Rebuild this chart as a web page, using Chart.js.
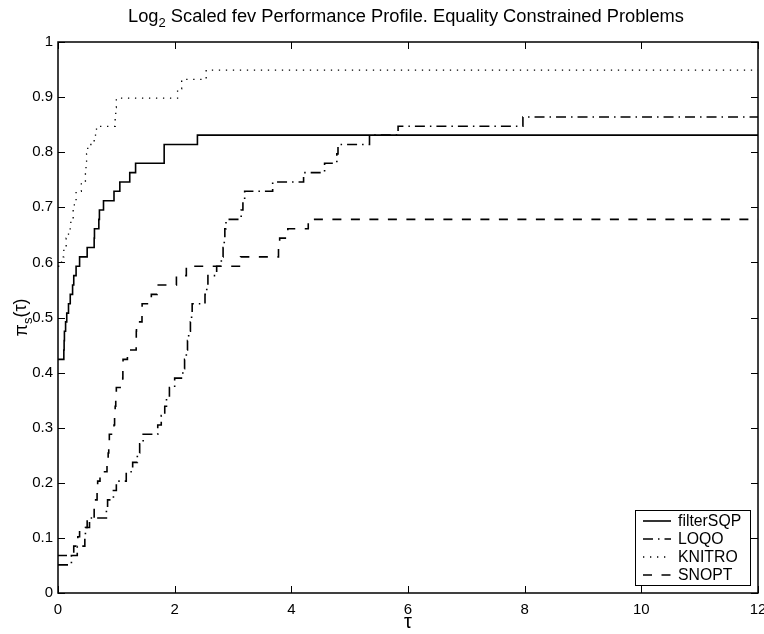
<!DOCTYPE html>
<html>
<head>
<meta charset="utf-8">
<title>Performance profile</title>
<script src="https://cdn.jsdelivr.net/npm/chart.js@4.4.1/dist/chart.umd.min.js"></script>
<style>
    html, body { margin: 0; padding: 0; background: #fff; }
    #wrap { width: 764px; height: 634px; }
</style>
</head>
<body>
<div id="wrap"><canvas id="profileChart" width="764" height="634"></canvas></div>
<script>
// tau breakpoints and fraction of problems solved
const filterTau = [0, 0.10, 0.105, 0.11, 0.13, 0.15, 0.18, 0.21, 0.25, 0.27, 0.31, 0.37, 0.50, 0.62, 0.625, 0.70, 0.71, 0.78, 0.96, 1.06, 1.23, 1.33, 1.82, 2.39, 12];
const filterRho = [0.424, 0.441, 0.458, 0.475, 0.492, 0.508, 0.525, 0.542, 0.559, 0.576, 0.593, 0.610, 0.627, 0.644, 0.661, 0.678, 0.695, 0.712, 0.729, 0.746, 0.763, 0.780, 0.814, 0.831, 0.831];

const loqoTau = [0, 0.23, 0.33, 0.46, 0.47, 0.54, 0.83, 0.85, 0.95, 1.00,
                 1.17, 1.28, 1.36, 1.40, 1.46, 1.71, 1.77, 1.83, 1.86, 1.91,
                 2.00, 2.14, 2.17, 2.20, 2.22, 2.24, 2.27, 2.29, 2.30, 2.52,
                 2.55, 2.57, 2.72, 2.80, 2.83, 2.85, 2.86, 2.88, 3.14, 3.17,
                 3.20, 3.68, 4.21, 4.57, 4.78, 4.80, 5.34, 5.83, 7.97, 12];
const loqoRho = [0.051, 0.068, 0.085, 0.102, 0.119, 0.136, 0.153, 0.169, 0.186, 0.203,
                 0.220, 0.237, 0.254, 0.271, 0.288, 0.305, 0.322, 0.339, 0.356, 0.373,
                 0.390, 0.407, 0.424, 0.441, 0.458, 0.475, 0.492, 0.508, 0.525, 0.542,
                 0.559, 0.576, 0.593, 0.610, 0.627, 0.644, 0.661, 0.678, 0.695, 0.712,
                 0.729, 0.746, 0.763, 0.780, 0.797, 0.814, 0.831, 0.847, 0.864, 0.864];

const knitroTau = [0, 0.06, 0.10, 0.14, 0.18, 0.22, 0.26, 0.28, 0.31, 0.40, 0.47, 0.48, 0.49, 0.51, 0.62, 0.66, 0.98, 0.99, 1.00, 2.05, 2.12, 2.54, 12];
const knitroRho = [0.593, 0.610, 0.627, 0.644, 0.661, 0.678, 0.695, 0.712, 0.729, 0.746, 0.763, 0.780, 0.797, 0.814, 0.831, 0.847, 0.864, 0.881, 0.898, 0.915, 0.932, 0.949, 0.949];

const snoptTau = [0, 0.27, 0.34, 0.37, 0.50, 0.62, 0.63, 0.67, 0.68, 0.72,
                  0.84, 0.86, 0.87, 0.88, 0.96, 0.97, 0.98, 0.99, 1.00,
                  1.11, 1.112, 1.115, 1.19, 1.34, 1.342, 1.345, 1.44, 1.442,
                  1.60, 1.70, 2.03, 2.20, 3.13, 3.78, 3.80, 3.94, 4.29, 12];
const snoptRho = [0.068, 0.085, 0.102, 0.119, 0.136, 0.153, 0.169, 0.186, 0.203, 0.220,
                  0.237, 0.254, 0.271, 0.288, 0.305, 0.322, 0.339, 0.356, 0.373,
                  0.390, 0.407, 0.424, 0.441, 0.458, 0.475, 0.492, 0.508, 0.525,
                  0.542, 0.559, 0.576, 0.593, 0.610, 0.627, 0.644, 0.661, 0.678, 0.678];

const solverNames = ['filterSQP', 'LOQO', 'KNITRO', 'SNOPT'];
const xTicks = [0, 2, 4, 6, 8, 10, 12];
const yTicks = [0, 0.1, 0.2, 0.3, 0.4, 0.5, 0.6, 0.7, 0.8, 0.9, 1];

const FONT = '"Liberation Sans", Arial, Helvetica, sans-serif';

function toPoints(tau, rho) {
    return tau.map((t, i) => ({ x: t, y: rho[i] }));
}

const series = [
    { label: solverNames[0], data: toPoints(filterTau, filterRho), dash: [], width: 1.6 },
    { label: solverNames[1], data: toPoints(loqoTau, loqoRho), dash: [10, 5, 1.5, 5], width: 1.6 },
    { label: solverNames[2], data: toPoints(knitroTau, knitroRho), dash: [1.3, 5.7], width: 1.3 },
    { label: solverNames[3], data: toPoints(snoptTau, snoptRho), dash: [9, 9.5], width: 1.6 }
];

// box, inward ticks, titles and legend in the MATLAB look
const framePlugin = {
    id: 'frame',
    afterDraw(chart) {
        const ctx = chart.ctx;
        const a = chart.chartArea;
        const sx = chart.scales.x;
        const sy = chart.scales.y;
        const tick = 7;

        ctx.save();
        ctx.strokeStyle = '#000';
        ctx.lineWidth = 1;
        ctx.beginPath();
        xTicks.forEach(v => {
            const px = Math.round(sx.getPixelForValue(v)) + 0.5;
            ctx.moveTo(px, a.bottom); ctx.lineTo(px, a.bottom - tick);
            ctx.moveTo(px, a.top); ctx.lineTo(px, a.top + tick);
        });
        yTicks.forEach(v => {
            const py = Math.round(sy.getPixelForValue(v)) + 0.5;
            ctx.moveTo(a.left, py); ctx.lineTo(a.left + tick, py);
            ctx.moveTo(a.right, py); ctx.lineTo(a.right - tick, py);
        });
        ctx.stroke();

        ctx.lineWidth = 1.5;
        ctx.strokeRect(a.left, a.top, a.right - a.left, a.bottom - a.top);

        // title with subscript 2
        ctx.fillStyle = '#000';
        ctx.textBaseline = 'alphabetic';
        const big = '18.3px ' + FONT;
        const small = '13px ' + FONT;
        const t1 = 'Log', t2 = '2', t3 = ' Scaled fev Performance Profile. Equality Constrained Problems';
        ctx.font = big;
        const w1 = ctx.measureText(t1).width, w3 = ctx.measureText(t3).width;
        ctx.font = small;
        const w2 = ctx.measureText(t2).width;
        let tx = (a.left + a.right) / 2 - 2 - (w1 + w2 + w3) / 2;
        const ty = 22;
        ctx.textAlign = 'left';
        ctx.font = big; ctx.fillText(t1, tx, ty); tx += w1;
        ctx.font = small; ctx.fillText(t2, tx, ty + 5); tx += w2;
        ctx.font = big; ctx.fillText(t3, tx, ty);

        // x axis title
        ctx.font = '20px ' + FONT;
        ctx.textAlign = 'center';
        ctx.fillText('\u03C4', (a.left + a.right) / 2, 628);

        // y axis title: pi_s(tau), rotated
        ctx.save();
        ctx.translate(27, (a.top + a.bottom) / 2);
        ctx.rotate(-Math.PI / 2);
        ctx.textAlign = 'left';
        const f1 = '18px ' + FONT, f2 = '13px ' + FONT;
        ctx.font = f1;
        const pw = ctx.measureText('\u03C0').width;
        const qw = ctx.measureText('(\u03C4)').width;
        ctx.font = f2;
        const sw = ctx.measureText('s').width;
        let lx = -(pw + sw + qw) / 2;
        ctx.font = f1; ctx.fillText('\u03C0', lx, 0); lx += pw;
        ctx.font = f2; ctx.fillText('s', lx, 5); lx += sw;
        ctx.font = f1; ctx.fillText('(\u03C4)', lx, -1);
        ctx.restore();

        // legend box in the lower right corner
        const bw = 115, bh = 75;
        const bx = a.right - 8 - bw, by = a.bottom - 8 - bh;
        ctx.fillStyle = '#fff';
        ctx.fillRect(bx, by, bw, bh);
        ctx.lineWidth = 1;
        ctx.strokeStyle = '#000';
        ctx.strokeRect(bx + 0.5, by + 0.5, bw, bh);
        ctx.font = '15.8px ' + FONT;
        ctx.textAlign = 'left';
        ctx.textBaseline = 'middle';
        ctx.fillStyle = '#000';
        series.forEach((s, i) => {
            const ry = by + 11 + i * 18;
            ctx.save();
            ctx.setLineDash(s.dash);
            ctx.lineWidth = s.width;
            ctx.beginPath();
            ctx.moveTo(bx + 8, ry);
            ctx.lineTo(bx + 36, ry);
            ctx.stroke();
            ctx.restore();
            ctx.fillText(s.label, bx + 43, ry + 1);
        });
        ctx.restore();
    }
};

new Chart(document.getElementById('profileChart'), {
    type: 'line',
    data: {
        datasets: series.map(s => ({
            label: s.label,
            data: s.data,
            stepped: true,
            borderColor: '#000',
            borderWidth: s.width,
            borderDash: s.dash,
            pointRadius: 0,
            fill: false
        }))
    },
    options: {
        responsive: false,
        animation: false,
        devicePixelRatio: 1,
        layout: { padding: { top: 42, right: 6, left: 0, bottom: 0 } },
        plugins: {
            legend: { display: false },
            title: { display: false },
            tooltip: { enabled: false }
        },
        scales: {
            x: {
                type: 'linear',
                min: 0,
                max: 12,
                afterBuildTicks: scale => { scale.ticks = xTicks.map(v => ({ value: v })); },
                afterFit: scale => { scale.height = 41; scale.paddingLeft = 0; scale.paddingRight = 0; },
                grid: { display: false, drawTicks: false },
                border: { display: false },
                ticks: { color: '#000', font: { family: FONT, size: 15 }, padding: 8, maxRotation: 0, autoSkip: false }
            },
            y: {
                type: 'linear',
                min: 0,
                max: 1,
                afterBuildTicks: scale => { scale.ticks = yTicks.map(v => ({ value: v })); },
                afterFit: scale => { scale.width = 58; scale.paddingTop = 0; scale.paddingBottom = 0; },
                grid: { display: false, drawTicks: false },
                border: { display: false },
                ticks: {
                    color: '#000',
                    font: { family: FONT, size: 15 },
                    padding: 5,
                    callback: v => String(Math.round(v * 10) / 10)
                }
            }
        }
    },
    plugins: [framePlugin]
});
</script>
</body>
</html>
